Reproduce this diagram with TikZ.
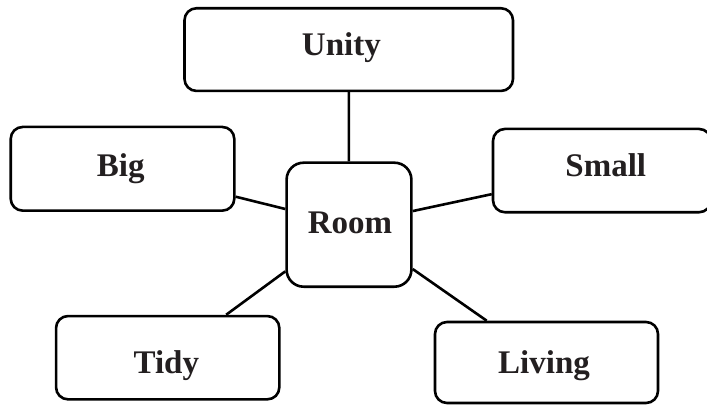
\documentclass[tikz,border=0pt]{standalone}
\usepackage{fontspec}
\setmainfont{Liberation Serif}
\definecolor{ink}{HTML}{231F20}
\newcommand{\shiftlab}[3]{\makebox[0pt]{\hspace*{#1}\raisebox{#2}{#3}}}
\begin{document}
\begin{tikzpicture}[x=1pt,y=-1pt,
  box/.style={draw=black, line width=2.6pt, rounded corners=12pt, fill=white,
    inner sep=0pt, text height=0pt, text depth=0pt, text=ink,
    font=\fontsize{33}{40}\selectfont\bfseries},
  link/.style={draw=black, line width=2.6pt}]
\useasboundingbox (0,0) rectangle (707,406);
\begin{scope}
\clip (0,0) rectangle (707,406);
\node[box, minimum width=328.5pt, minimum height=82.7pt] (unity) at (348.75,49.6) {\shiftlab{-14.8pt}{-6.4pt}{Unity}};
\node[box, minimum width=223.6pt, minimum height=83.7pt] (big) at (122.5,168.8) {\shiftlab{-3.6pt}{-7.9pt}{Big}};
\node[box, minimum width=218pt, minimum height=83.3pt] (small) at (602,170.6) {\shiftlab{7.6pt}{-6.1pt}{Small}};
\node[box, rounded corners=17pt, minimum width=124.8pt, minimum height=124pt] (room) at (349,224.7) {\shiftlab{2pt}{-9.3pt}{Room}};
\node[box, minimum width=223.3pt, minimum height=83.3pt] (tidy) at (167.7,357.7) {\shiftlab{-2.8pt}{-15.6pt}{Tidy}};
\node[box, minimum width=223pt, minimum height=81pt] (living) at (546.5,362.5) {\shiftlab{-5pt}{-10.8pt}{Living}};
\draw[link] (unity) -- (room);
\draw[link] (big) -- (room);
\draw[link] (small) -- (room);
\draw[link] (tidy) -- (room);
\draw[link] (living) -- (room);
\end{scope}
\end{tikzpicture}
\end{document}
